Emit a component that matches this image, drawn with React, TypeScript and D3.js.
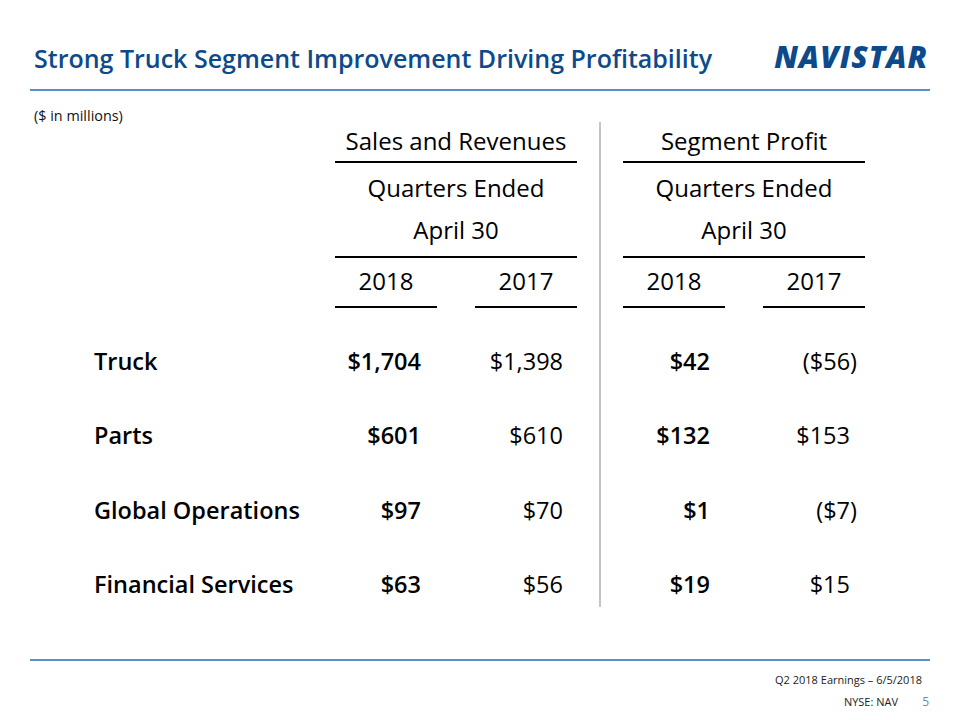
import React from "react";
import * as d3 from "d3";

const segments = ["Truck", "Parts", "Global Operations", "Financial Services"];
const sales2018 = [1704, 601, 97, 63];
const sales2017 = [1398, 610, 70, 56];
const profit2018 = [42, 132, 1, 19];
const profit2017 = [-56, 153, -7, 15];
const groupTitles = ["Sales and Revenues", "Segment Profit"];
const years = ["2018", "2017"];

const W = 960;
const H = 720;
const FONT = "'Open Sans', 'Noto Sans', sans-serif";
const BLUE = "#0d4a8b";
const RULE = "#5b8fc9";

const fmt = (v: number) => {
  const s = "$" + d3.format(",")(Math.abs(v));
  return v < 0 ? `(${s})` : s;
};

export default function App() {
  const colLefts = [335, 475, 623, 763];
  const colW = 102;
  const rowY = d3.scalePoint<string>().domain(segments).range([370, 593]);
  const cols = [
    { vals: sales2018, bold: true, right: 421 },
    { vals: sales2017, bold: false, right: 563 },
    { vals: profit2018, bold: true, right: 710 },
    { vals: profit2017, bold: false, right: 850 },
  ];
  const groups = [
    { x0: 335, x1: 577 },
    { x0: 623, x1: 865 },
  ];

  return (
    <svg
      width={W}
      height={H}
      viewBox={`0 0 ${W} ${H}`}
      style={{ position: "absolute", left: 0, top: 0, background: "#fff", fontFamily: FONT }}
    >
      <rect x={0} y={0} width={W} height={H} fill="#fff" />
      {/* Title */}
      <text x={34} y={68} fill={BLUE} fontSize={25} fontWeight={600}>
        Strong Truck Segment Improvement Driving Profitability
      </text>
      <text
        x={928}
        y={68}
        textAnchor="end"
        fill={BLUE}
        fontSize={30}
        fontWeight={800}
        fontStyle="italic"
        letterSpacing={1}
      >
        NAVISTAR
      </text>
      <line x1={30} x2={930} y1={90} y2={90} stroke={RULE} strokeWidth={2} />
      <text x={34} y={121} fontSize={14.4} fill="#111">
        ($ in millions)
      </text>

      {/* divider */}
      <line x1={600} x2={600} y1={122} y2={607} stroke="#b0b0b0" strokeWidth={1.5} />

      {/* group headers */}
      {groups.map((g, i) => {
        const cx = (g.x0 + g.x1) / 2;
        return (
          <g key={i} fill="#000">
            <text x={cx} y={150} textAnchor="middle" fontSize={24}>
              {groupTitles[i]}
            </text>
            <line x1={g.x0} x2={g.x1} y1={162} y2={162} stroke="#000" strokeWidth={2} />
            <text x={cx} y={197} textAnchor="middle" fontSize={24}>
              Quarters Ended
            </text>
            <text x={cx} y={239} textAnchor="middle" fontSize={24}>
              April 30
            </text>
            <line x1={g.x0} x2={g.x1} y1={257} y2={257} stroke="#000" strokeWidth={2} />
          </g>
        );
      })}
      {colLefts.map((x, i) => (
        <g key={i}>
          <text x={x + colW / 2} y={290} textAnchor="middle" fontSize={24} fill="#000">
            {years[i % 2]}
          </text>
          <line x1={x} x2={x + colW} y1={307} y2={307} stroke="#000" strokeWidth={2} />
        </g>
      ))}

      {/* rows */}
      {segments.map((s, r) => (
        <g key={s}>
          <text x={94} y={rowY(s)} fontSize={23.5} fontWeight={600} fill="#000">
            {s}
          </text>
          {cols.map((c, ci) => {
            const v = c.vals[r];
            return (
              <text
                key={ci}
                x={c.right + (v < 0 ? 7 : 0)}
                y={rowY(s)}
                textAnchor="end"
                fontSize={23.5}
                fontWeight={c.bold ? 600 : 400}
                fill="#000"
              >
                {fmt(v)}
              </text>
            );
          })}
        </g>
      ))}

      {/* footer */}
      <line x1={30} x2={930} y1={660} y2={660} stroke={RULE} strokeWidth={2} />
      <text x={922} y={684} textAnchor="end" fontSize={11} fill="#222">
        Q2 2018 Earnings – 6/5/2018
      </text>
      <text x={898} y={706} textAnchor="end" fontSize={11} fill="#222">
        NYSE: NAV
      </text>
      <text x={929} y={706} textAnchor="end" fontSize={12} fill={RULE}>
        5
      </text>
    </svg>
  );
}
